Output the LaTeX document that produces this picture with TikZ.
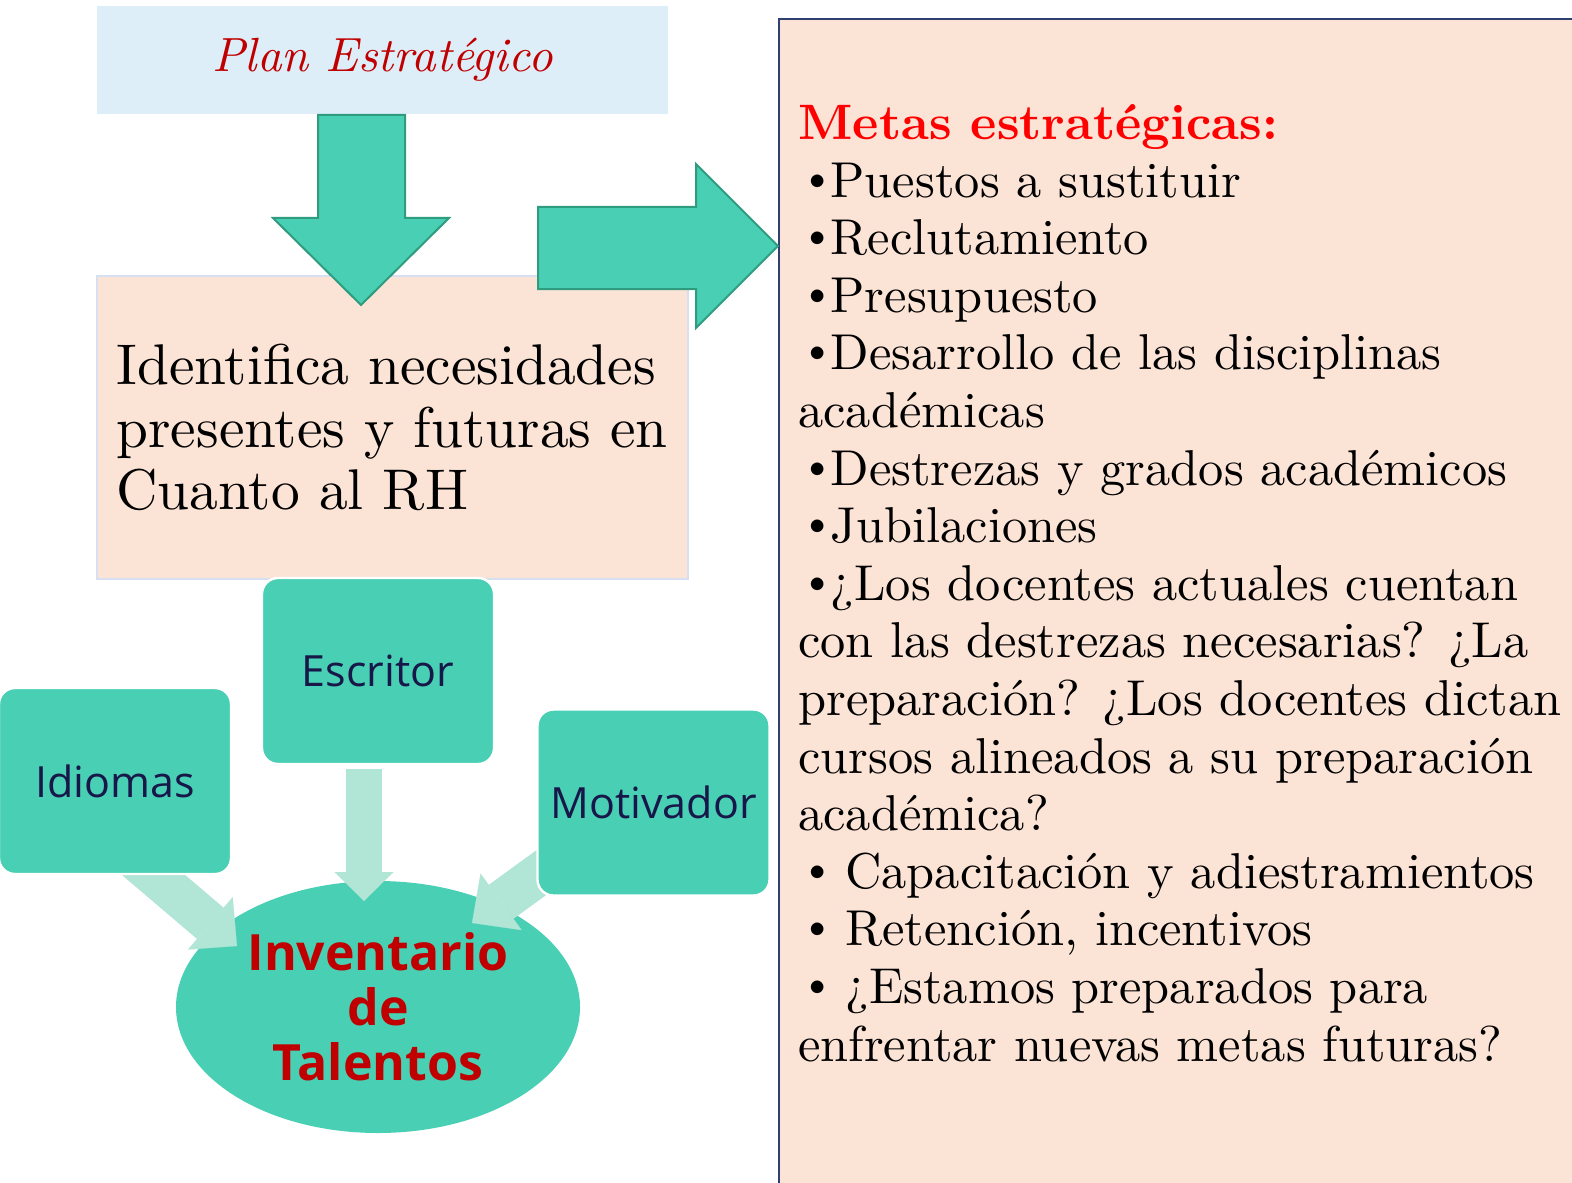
\documentclass[tikz,border=0pt]{standalone}
\usepackage{fontspec}
\usepackage{xcolor}
\usetikzlibrary{arrows.meta,shapes.geometric,positioning}
\setmainfont{lmroman10-regular.otf}[
    BoldFont=lmroman10-bold.otf,
    ItalicFont=lmroman10-italic.otf,
    BoldItalicFont=lmroman10-bolditalic.otf]
\newfontfamily\boxfont{Open Sans}
\newcommand{\metabul}[1][-2pt]{\hspace*{1pt}\raisebox{3pt}{\fontsize{22}{22}\selectfont\textbullet}\hspace*{#1}}
\definecolor{tealfill}{HTML}{49CFB3}
\definecolor{arrowline}{HTML}{2F9C80}
\definecolor{softteal}{HTML}{B1E5D6}
\definecolor{planblue}{HTML}{DDEEF9}
\definecolor{pinkfill}{HTML}{FBE3D6}
\definecolor{needline}{HTML}{D6E0F0}
\definecolor{metaline}{HTML}{2F3F6F}
\definecolor{planred}{HTML}{C00000}
\definecolor{metared}{HTML}{FF0000}
\definecolor{inkblue}{HTML}{17174A}

\begin{document}
\begin{tikzpicture}[x=0.5pt,y=-0.5pt]
        \tikzstyle{planbox}=[
            fill=planblue,
            minimum width=285.5pt,
            minimum height=54pt,
            inner sep=0pt,
            text=planred,
            font=\fontsize{24}{28}\selectfont\itshape
        ]
        \tikzstyle{needbox}=[
            draw=needline,
            line width=1pt,
            fill=pinkfill,
            minimum width=295.5pt,
            minimum height=151.5pt,
            text width=276pt,
            align=left,
            inner xsep=9.75pt,
            font=\fontsize{28.7}{31.4}\selectfont
        ]
        \tikzstyle{talentbox}=[
            rounded corners=8pt,
            draw=white,
            line width=1.2pt,
            fill=tealfill,
            minimum width=116pt,
            minimum height=93pt,
            text=inkblue,
            font=\boxfont\fontsize{21.5}{24}\selectfont
        ]
        \tikzstyle{bigarrow}=[draw=arrowline, line width=1pt, fill=tealfill]
        \tikzstyle{softarrow}=[draw=softteal, line width=20.5pt]

        \useasboundingbox (0,0) rectangle (1572,1182);

        % right column
        \node[draw=metaline, line width=1.2pt, fill=pinkfill, anchor=north west,
              minimum width=400pt, minimum height=600pt] (metas) at (778,18) {};
        \node[anchor=north west, align=left, inner sep=0pt,
              font=\fontsize{25.2}{28.8}\selectfont] (metastext) at (798,104) {%
            {\color{metared}\bfseries\fontsize{24.9}{28.8}\selectfont Metas estratégicas:}\\
            \metabul Puestos a sustituir\\
            \metabul Reclutamiento\\
            \metabul Presupuesto\\
            \metabul Desarrollo de las disciplinas\\
            académicas\\
            \metabul Destrezas y grados académicos\\
            \metabul Jubilaciones\\
            \metabul ¿Los docentes actuales cuentan\\
            con las destrezas necesarias? ¿La\\
            preparación? ¿Los docentes dictan\\
            cursos alineados a su preparación\\
            académica?\\
            \metabul[5.3pt]Capacitación y adiestramientos\\
            \metabul[5.3pt]Retención, incentivos\\
            \metabul[5.3pt]¿Estamos preparados para\\
            enfrentar nuevas metas futuras?};

        % top left
        \node[planbox] (plan) at (382.5,60) {Plan Estratégico};
        \node[needbox] (need) at (392.5,427.5)
            {Identifica necesidades\\presentes y futuras en\\Cuanto al RH};

        \draw[bigarrow] (318,115) -- (405,115) -- (405,218) -- (449,218)
            -- (361,305) -- (273,218) -- (318,218) -- cycle;
        \draw[bigarrow] (538,207) -- (696,207) -- (696,164) -- (778,246)
            -- (696,328) -- (696,289) -- (538,289) -- cycle;

        % talents
        \node[ellipse, fill=tealfill, minimum width=202pt, minimum height=126pt,
              inner sep=0pt, align=center, text=planred,
              font=\boxfont\bfseries\fontsize{25}{27.5}\selectfont] (talentos) at (378,1007)
            {Inventario\\de\\Talentos};

        \coordinate (idiomasfrom) at (123,849);
        \coordinate (idiomastip) at (237,946);
        \coordinate (escritorfrom) at (364,769);
        \coordinate (escritortip) at (364,901);
        \coordinate (motivadorfrom) at (593,835);
        \coordinate (motivadortip) at (472,923);

        \draw[softarrow, -{Triangle[width=34.5pt, length=17.5pt, line width=0.1pt]}]
            (idiomasfrom) -- (idiomastip);
        \draw[softarrow, line width=18pt, -{Triangle[width=29.5pt, length=14.5pt, line width=0.1pt]}]
            (escritorfrom) -- (escritortip);
        \draw[softarrow, line width=21pt, -{Triangle[width=35pt, length=18pt, line width=0.1pt]}]
            (motivadorfrom) -- (motivadortip);

        \node[talentbox] (escritor) at (378,671) {Escritor};
        \node[talentbox] (idiomas) at (115,781) {Idiomas};
        \node[talentbox] (motivador) at (653.5,802.5) {Motivador};

\end{tikzpicture}
\end{document}
